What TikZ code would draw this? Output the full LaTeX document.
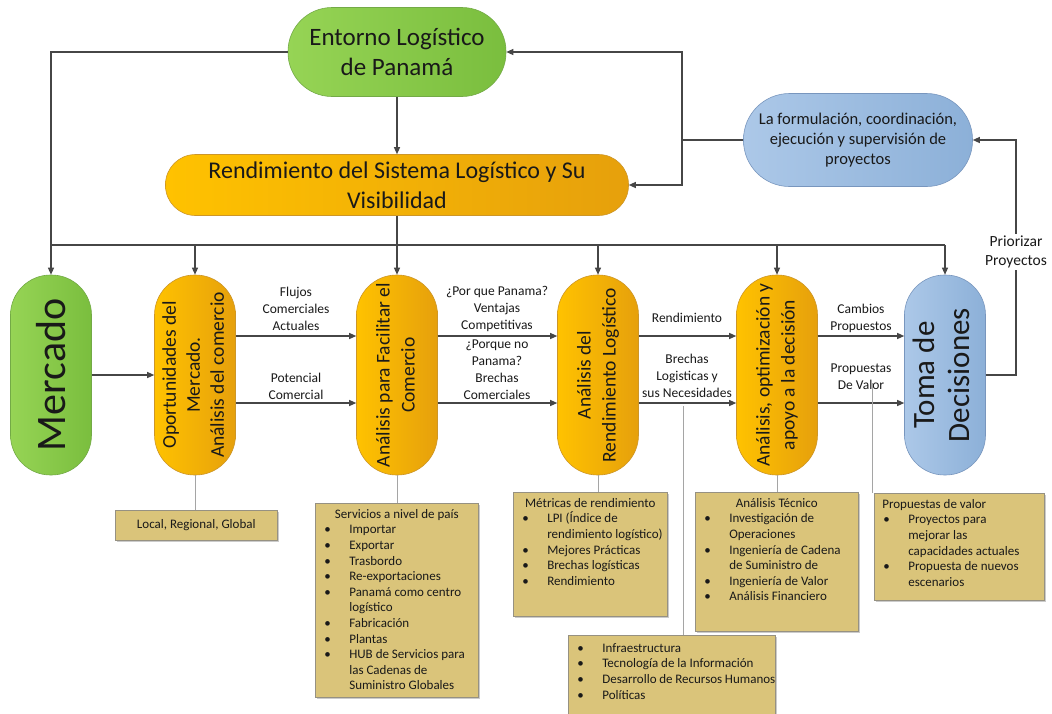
\documentclass[tikz,border=0pt]{standalone}
\usepackage{fontspec}
\setmainfont{Carlito}
\usetikzlibrary{arrows.meta,shadows,calc}
\definecolor{lineC}{RGB}{70,70,70}
\definecolor{thinC}{RGB}{165,165,165}
\definecolor{greenL}{RGB}{150,212,85}
\definecolor{greenR}{RGB}{122,190,62}
\definecolor{greenB}{RGB}{115,170,70}
\definecolor{orL}{RGB}{255,194,0}
\definecolor{orR}{RGB}{230,160,12}
\definecolor{orB}{RGB}{205,150,40}
\definecolor{blL}{RGB}{172,200,232}
\definecolor{blR}{RGB}{140,176,216}
\definecolor{blB}{RGB}{120,150,190}
\definecolor{tanF}{RGB}{218,196,122}
\definecolor{tanB}{RGB}{150,145,130}
\definecolor{txtC}{RGB}{25,25,25}
\newlength\itind
\newlength\bulind
\newcommand\bitem[1]{\par\noindent\hangindent=\itind\hangafter=1\makebox[\itind][l]{\hspace{\bulind}\textbullet}#1}
\newcommand\boxfont{\fontsize{13}{15.6}\selectfont}
\begin{document}
\begin{tikzpicture}[x=1pt,y=-1pt,
  conn/.style={draw=lineC, line width=1.2pt},
  arr/.style={conn, -{Triangle[length=7pt,width=6pt]}},
  thinln/.style={draw=thinC, line width=0.8pt},
  gnode/.style={draw=greenB, left color=greenL, right color=greenR, line width=0.6pt, text=txtC},
  onode/.style={draw=orB, left color=orL, right color=orR, line width=0.6pt, text=txtC},
  bnode/.style={draw=blB, left color=blL, right color=blR, line width=0.6pt, text=txtC},
  vnode/.style={minimum width=81pt, minimum height=200pt, rounded corners=40pt, inner sep=0pt},
  lbl/.style={font=\fontsize{13.5}{17}\selectfont, align=center, inner sep=1pt, text=txtC},
  tanbox/.style={draw=tanB, fill=tanF, line width=0.6pt, inner sep=0pt, anchor=north west, text=txtC,
    drop shadow={shadow xshift=2pt, shadow yshift=-2pt, fill=black!40, opacity=0.5}}
]
\fill[white] (0,0) rectangle (1052,713);
\useasboundingbox (0,0) rectangle (1052,713);

% top nodes
\node[gnode, minimum width=218pt, minimum height=89pt, rounded corners=44pt, align=center,
  font=\fontsize{25}{30}\selectfont] (ent) at (397,52) {Entorno Logístico\\de Panamá};
\node[onode, minimum width=463pt, minimum height=61pt, rounded corners=30pt, align=center,
  font=\fontsize{24}{30}\selectfont] (rend) at (397,185) {Rendimiento del Sistema Logístico y Su\\Visibilidad};
\node[bnode, minimum width=229pt, minimum height=93pt, rounded corners=46pt, align=center,
  font=\fontsize{16.5}{20}\selectfont] (form) at (858,140) {La formulación, coordinación,\\ejecución y supervisión de\\proyectos};

% vertical nodes
\node[gnode, vnode] (merc) at (51,375) {\rotatebox{90}{\fontsize{42}{46}\selectfont Mercado}};
\node[onode, vnode] (opp) at (195,375) {\rotatebox{90}{\fontsize{19.5}{24}\selectfont\begin{tabular}{@{}c@{}}Oportunidades del\\Mercado.\\Análisis del comercio\end{tabular}}};
\node[onode, vnode] (fac) at (397,375) {\rotatebox{90}{\fontsize{19.5}{25}\selectfont\begin{tabular}{@{}c@{}}Análisis para Facilitar el\\Comercio\end{tabular}}};
\node[onode, vnode] (ren) at (598,375) {\rotatebox{90}{\fontsize{19.5}{25}\selectfont\begin{tabular}{@{}c@{}}Análisis del\\Rendimiento Logístico\end{tabular}}};
\node[onode, vnode] (opt) at (777,375) {\rotatebox{90}{\fontsize{19.5}{25}\selectfont\begin{tabular}{@{}c@{}}Análisis, optimización y\\apoyo a la decisión\end{tabular}}};
\node[bnode, vnode] (toma) at (945,375) {\rotatebox{90}{\fontsize{31}{35}\selectfont\begin{tabular}{@{}c@{}}Toma de\\Decisiones\end{tabular}}};

% top connectors
\draw[arr] (ent) -- (rend);
\draw[arr] (ent.west) -| (merc.north);
\coordinate (jr) at (682,140);
\draw[conn] (form.west) -- (jr);
\draw[arr] (jr) |- (ent.east);
\draw[arr] (jr) |- (rend.east);

% bus
\coordinate (busL) at (51,245);
\coordinate (busR) at (945,245);
\draw[conn] (rend.south) -- (rend.south |- busL);
\draw[conn] (busL) -- (busR);
\foreach \n in {opp,fac,ren,opt,toma} {\draw[arr] (\n.north |- busL) -- (\n.north);}

% feedback
\coordinate (fb) at (1016,375);
\draw[arr] (toma.east) -- (fb) |- (form.east);
\node[lbl, fill=white, font=\fontsize{15.5}{19}\selectfont, inner ysep=2pt] (prio) at (1016,252) {Priorizar\\Proyectos};

% horizontal arrows
\draw[arr] (merc.east) -- (opp.west);
\draw[arr] (opp.east |- 0,336) -- (fac.west |- 0,336);
\draw[arr] (opp.east |- 0,403) -- (fac.west |- 0,403);
\draw[arr] (fac.east |- 0,336) -- (ren.west |- 0,336);
\draw[arr] (fac.east |- 0,403) -- (ren.west |- 0,403);
\draw[arr] (ren.east |- 0,336) -- (opt.west |- 0,336);
\draw[arr] (ren.east |- 0,403) -- (opt.west |- 0,403);
\draw[arr] (opt.east |- 0,336) -- (toma.west |- 0,336);
\draw[arr] (opt.east |- 0,403) -- (toma.west |- 0,403);

% arrow labels
\node[lbl] (l1) at (296,309) {Flujos\\Comerciales\\Actuales};
\node[lbl] (l2) at (296,386) {Potencial\\Comercial};
\node[lbl] (l3) at (497,309) {¿Por que Panama?\\Ventajas\\Competitivas};
\node[lbl] (l4) at (497,370) {¿Porque no\\Panama?\\Brechas\\Comerciales};
\node[lbl] (l5) at (687,318) {Rendimiento};
\node[lbl] (l6) at (687,376) {Brechas\\Logisticas y\\sus Necesidades};
\node[lbl] (l7) at (861,318) {Cambios\\Propuestos};
\node[lbl] (l8) at (861,377) {Propuestas\\De Valor};

% bottom boxes
\node[tanbox, minimum width=162pt, minimum height=30pt, anchor=north west, font=\boxfont] (loc) at (115,510) {Local, Regional, Global};

\setlength\itind{34pt}\setlength\bulind{9pt}
\node[tanbox] (serv) at (315,503) {\parbox[c][194pt][t]{163pt}{\boxfont\vspace*{6pt}%
  \centering Servicios a nivel de país\par\raggedright\leftskip=0pt
  \bitem{Importar}\bitem{Exportar}\bitem{Trasbordo}\bitem{Re-exportaciones}%
  \bitem{Panamá como centro\newline logístico}\bitem{Fabricación}\bitem{Plantas}%
  \bitem{HUB de Servicios para\newline las Cadenas de\newline Suministro Globales}}};

\node[tanbox] (met) at (513,492) {\parbox[c][124pt][t]{154pt}{\boxfont\vspace*{6pt}%
  \centering Métricas de rendimiento\par\raggedright\leftskip=0pt
  \bitem{LPI (Índice de\newline rendimiento logístico)}\bitem{Mejores Prácticas}%
  \bitem{Brechas logísticas}\bitem{Rendimiento}}};

\node[tanbox] (tec) at (695,492) {\parbox[c][139pt][t]{163pt}{\boxfont\vspace*{6pt}%
  \centering Análisis Técnico\par\raggedright\leftskip=0pt
  \bitem{Investigación de\newline Operaciones}\bitem{Ingeniería de Cadena\newline de Suministro de}%
  \bitem{Ingeniería de Valor}\bitem{Análisis Financiero}}};

\node[tanbox] (prop) at (874,493) {\parbox[c][107pt][t]{170pt}{\boxfont\vspace*{6pt}%
  \raggedright\leftskip=0pt\hspace*{8pt}Propuestas de valor\par
  \bitem{Proyectos para\newline mejorar las\newline capacidades actuales}\bitem{Propuesta de nuevos\newline escenarios}}};

\node[tanbox] (infra) at (568,635) {\parbox[c][84pt][t]{207pt}{\boxfont\vspace*{8pt}%
  \raggedright\leftskip=0pt
  \bitem{Infraestructura}\bitem{Tecnología de la Información}%
  \bitem{Desarrollo de Recursos Humanos}\bitem{Políticas}}};

% thin connectors to boxes
\draw[thinln] (opp.south) -- (opp.south |- loc.north);
\draw[thinln] (fac.south) -- (fac.south |- serv.north);
\draw[thinln] (ren.south) -- (ren.south |- met.north);
\draw[thinln] (opt.south) -- (opt.south |- tec.north);
\coordinate (bn) at (683,406);
\draw[thinln] (bn) -- (bn |- infra.north);
\coordinate (pv) at (872,383);
\draw[thinln] (pv) -- (pv |- prop.north);
\end{tikzpicture}
\end{document}
